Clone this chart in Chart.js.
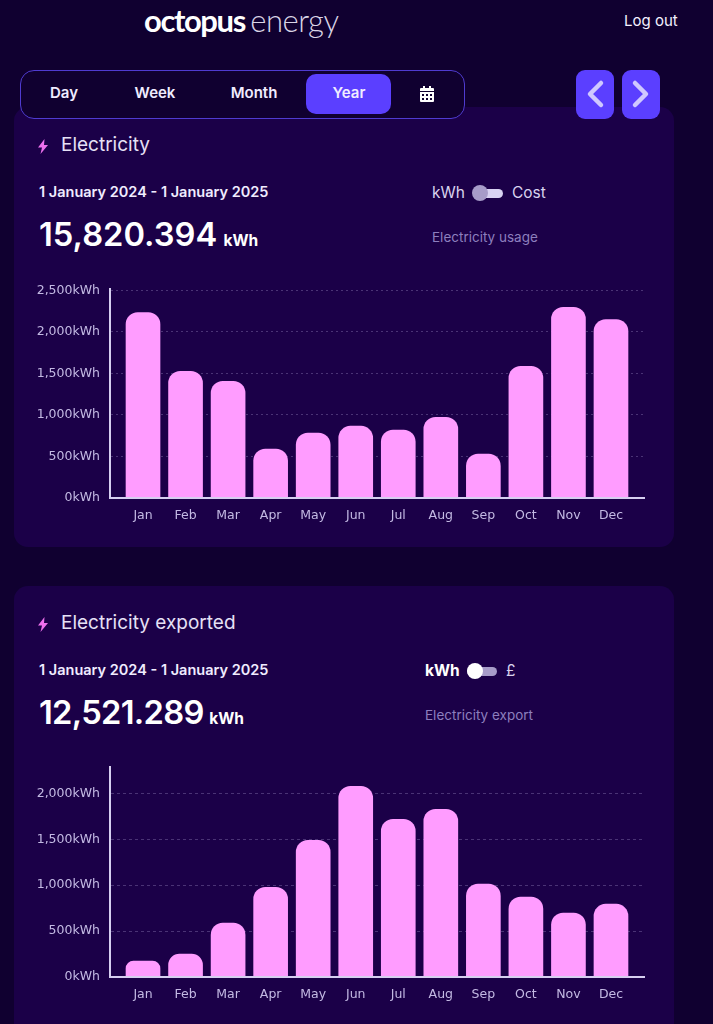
<!DOCTYPE html>
<html>
<head>
<meta charset="utf-8">
<title>Octopus Energy usage</title>
<script src="https://cdn.jsdelivr.net/npm/chart.js@4"></script>
<style>
  html, body { margin: 0; height: 100%; overflow: hidden; background: #100030; }
  body { position: relative; width: 713px; height: 1024px; font-family: Inter, sans-serif; color: #f0ecff; }
  .abs { position: absolute; white-space: nowrap; }
  .card { position: absolute; left: 14px; width: 660px; background: #1b0048; border-radius: 14px; }
  .logo { left: 144px; top: 0; font-family: Lato, sans-serif; font-size: 31px; line-height: 40px; letter-spacing: -0.5px; color: #fff; }
  .logo b { font-weight: 700; letter-spacing: -1.4px; }
  .logo span { font-weight: 300; color: #d9d4e6; margin-left: -2px; }
  .seg { left: 20px; top: 70px; width: 445px; height: 49px; background: #100030; border: 1.5px solid #4f3bd0; border-radius: 14px; box-sizing: border-box; }
  .tab { position: absolute; top: 84px; font-size: 15px; font-weight: 600; line-height: 18px; transform: translateX(-50%); white-space: nowrap; }
  .year { left: 306px; top: 74px; width: 85px; height: 40px; background: #5b3fff; border-radius: 10px; }
  .nav { top: 70px; width: 38px; height: 49px; background: #5b3fff; border-radius: 9px; }
  .title { font-size: 19px; line-height: 22px; color: #e6e1f6; }
  .date { font-size: 14.5px; font-weight: 600; line-height: 18px; }
  .total { font-size: 32.7px; font-weight: 600; line-height: 38px; color: #fff; }
  .total small { font-size: 15.5px; font-weight: 700; margin-left: -2px; letter-spacing: 0; }
  .unit { font-size: 15.5px; line-height: 18px; color: #d9d3ee; }
  .sub { font-size: 13.5px; line-height: 16px; color: #8d7fbe; }
  .track { width: 30px; height: 9px; border-radius: 5px; background: #d8d2f2; }
  .knob { width: 16px; height: 16px; border-radius: 50%; }
  canvas { position: absolute; left: 0; }
</style>
</head>
<body>
<div class="card" style="top:107px;height:440px"></div>
<div class="card" style="top:586px;height:460px"></div>

<div class="abs logo"><b>octopus</b> <span>energy</span></div>
<div class="abs" style="left:624px;top:12px;font-size:15px;line-height:18px;color:#f4f1ff">Log out</div>

<div class="abs seg"></div>
<div class="abs year"></div>
<div class="tab" style="left:64px">Day</div>
<div class="tab" style="left:155px">Week</div>
<div class="tab" style="left:254px">Month</div>
<div class="tab" style="left:349px">Year</div>
<svg class="abs" style="left:420px;top:86px" width="14" height="16" viewBox="0 0 14 16">
  <path fill="#fff" d="M3 0h2v2h4V0h2v2h2a1 1 0 0 1 1 1v2H0V3a1 1 0 0 1 1-1h2zM0 6h14v9a1 1 0 0 1-1 1H1a1 1 0 0 1-1-1zm2 2v2h2V8zm4 0v2h2V8zm4 0v2h2V8zm-8 4v2h2v-2zm4 0v2h2v-2zm4 0v2h2v-2z"/>
</svg>

<div class="abs nav" style="left:576px"></div>
<div class="abs nav" style="left:622px"></div>
<svg class="abs" style="left:576px;top:70px" width="84" height="48" viewBox="0 0 84 48" fill="none" stroke="#cfc8ff" stroke-width="4.5" stroke-linecap="round" stroke-linejoin="round">
  <path d="M25 13 L14 24 L25 35"/>
  <path d="M59 13 L70 24 L59 35"/>
</svg>

<svg class="abs" style="left:38px;top:139px" width="10" height="15" viewBox="0 0 10 15"><path fill="#ee70ee" d="M6.5 0 L0 8.5 H4 L2.5 15 L10 6 H6 Z"/></svg>
<div class="abs title" style="left:61px;top:134px">Electricity</div>
<div class="abs date" style="left:39px;top:183px">1 January 2024 - 1 January 2025</div>
<div class="abs unit" style="left:432px;top:184px">kWh</div>
<div class="abs track" style="left:473px;top:189px"></div>
<div class="abs knob" style="left:472px;top:185px;background:#a79cc9"></div>
<div class="abs unit" style="left:512px;top:184px">Cost</div>
<div class="abs total" style="left:39px;top:215px">15,820.394 <small>kWh</small></div>
<div class="abs sub" style="left:432px;top:229px">Electricity usage</div>
<canvas id="usageChart" style="top:271px"></canvas>

<svg class="abs" style="left:38px;top:617px" width="10" height="15" viewBox="0 0 10 15"><path fill="#ee70ee" d="M6.5 0 L0 8.5 H4 L2.5 15 L10 6 H6 Z"/></svg>
<div class="abs title" style="left:61px;top:612px">Electricity exported</div>
<div class="abs date" style="left:39px;top:661px">1 January 2024 - 1 January 2025</div>
<div class="abs unit" style="left:425px;top:662px;font-weight:700;color:#fff">kWh</div>
<div class="abs track" style="left:467px;top:667px;background:#a79cc9"></div>
<div class="abs knob" style="left:467px;top:663px;background:#fff"></div>
<div class="abs unit" style="left:506px;top:662px">£</div>
<div class="abs total" style="left:39px;top:693px;letter-spacing:-0.7px">12,521.289 <small>kWh</small></div>
<div class="abs sub" style="left:425px;top:707px">Electricity export</div>
<canvas id="exportChart" style="top:749px"></canvas>

<script>
const months = ['Jan', 'Feb', 'Mar', 'Apr', 'May', 'Jun', 'Jul', 'Aug', 'Sep', 'Oct', 'Nov', 'Dec'];
const usageValues  = [2235, 1526, 1406, 589, 781, 865, 817, 973, 529, 1587, 2296, 2151];
const exportValues = [174, 250, 587, 978, 1489, 2076, 1717, 1826, 1011, 870, 696, 793];
const usageTicks  = [0, 500, 1000, 1500, 2000, 2500];
const exportTicks = [0, 500, 1000, 1500, 2000];
const usageAxisMax  = 2524;
const exportAxisMax = 2293;

const tickColor = '#c3b9e3';
const axisColor = '#d6cff0';
const gridColor = 'rgba(196,184,235,0.28)';
const barColor  = '#ff9cff';

function makeChart(id, height, values, yTicks, axisMax, dash) {
  const el = document.getElementById(id);
  el.width = 660;
  el.height = height;
  return new Chart(el, {
    type: 'bar',
    data: {
      datasets: [{
        data: values.map((v, i) => ({ x: i + 1, y: v })),
        backgroundColor: barColor,
        barThickness: 34,
        borderRadius: { topLeft: 12, topRight: 12, bottomLeft: 0, bottomRight: 0 },
        borderSkipped: false,
      }]
    },
    options: {
      responsive: false,
      animation: false,
      layout: { padding: { top: 0, right: 16, bottom: 0, left: 0 } },
      plugins: { legend: { display: false }, tooltip: { enabled: false } },
      scales: {
        x: {
          type: 'linear',
          offset: false,
          min: 0.224,
          max: 12.776,
          afterFit: s => { s.height = 32; },
          grid: { display: false, drawTicks: false },
          border: { color: axisColor, width: 2, z: 1 },
          ticks: {
            stepSize: 1,
            includeBounds: false,
            autoSkip: false,
            maxRotation: 0,
            padding: 10,
            color: tickColor,
            font: { family: 'DejaVu Sans', size: 12.5 },
            callback: v => months[v - 1],
          }
        },
        y: {
          min: 0,
          max: axisMax,
          afterFit: s => { s.width = 110; },
          afterBuildTicks: s => { s.ticks = yTicks.map(v => ({ value: v })); },
          grid: { color: c => c.tick.value === 0 ? 'transparent' : gridColor, drawTicks: false },
          border: { color: axisColor, width: 2, dash: dash, z: 1 },
          ticks: {
            padding: 10,
            color: tickColor,
            font: { family: 'DejaVu Sans', size: 12.5 },
            callback: v => v.toLocaleString('en-GB') + 'kWh',
          }
        }
      }
    }
  });
}

makeChart('usageChart', 259, usageValues, usageTicks, usageAxisMax, [2, 3]);
makeChart('exportChart', 260, exportValues, exportTicks, exportAxisMax, [3, 3]);
</script>
</body>
</html>
